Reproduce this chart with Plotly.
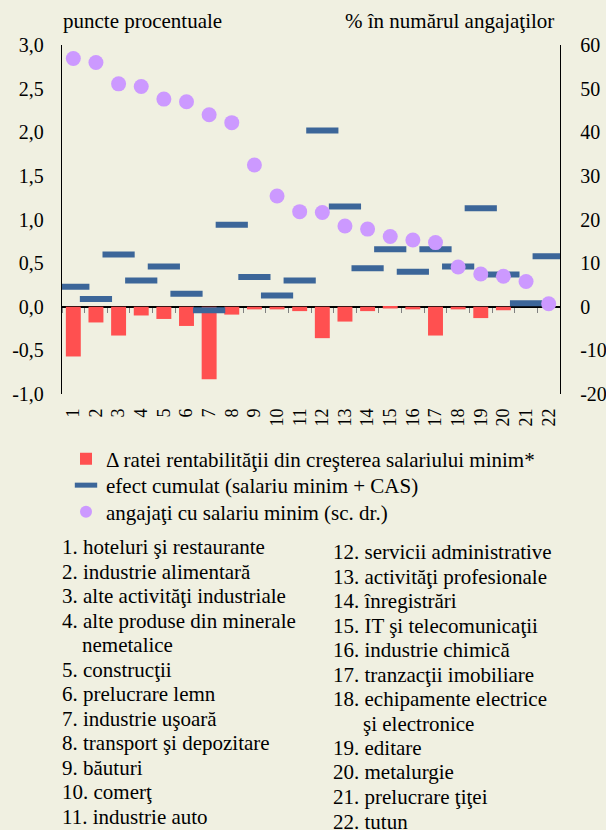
import plotly.graph_objects as go

# ---------------- data ----------------
categories = ["1", "2", "3", "4", "5", "6", "7", "8", "9", "10", "11",
              "12", "13", "14", "15", "16", "17", "18", "19", "20", "21", "22"]
delta_rentabilitate = [-0.57, -0.18, -0.33, -0.10, -0.14, -0.22, -0.83, -0.09, -0.03, -0.03, -0.05,
                       -0.36, -0.17, -0.05, -0.02, -0.03, -0.33, -0.03, -0.13, -0.04, 0.0, 0.0]
efect_cumulat = [0.23, 0.09, 0.60, 0.30, 0.46, 0.15, -0.04, 0.94, 0.34, 0.13, 0.30,
                 2.02, 1.15, 0.44, 0.66, 0.40, 0.66, 0.46, 1.13, 0.37, 0.04, 0.58]
angajati_salariu_minim = [56.9, 56.0, 51.1, 50.5, 47.6, 47.0, 44.0, 42.2, 32.5, 25.4, 21.8,
                          21.6, 18.5, 17.8, 16.1, 15.3, 14.7, 9.1, 7.5, 7.0, 5.8, 0.7]

left_tickvals = [-1.0, -0.5, 0.0, 0.5, 1.0, 1.5, 2.0, 2.5, 3.0]
left_ticktext = ["-1,0", "-0,5", "0,0", "0,5", "1,0", "1,5", "2,0", "2,5", "3,0"]
right_tickvals = [-20, -10, 0, 10, 20, 30, 40, 50, 60]
right_ticktext = ["-20", "-10", "0", "10", "20", "30", "40", "50", "60"]

series_names = ["\u0394 ratei rentabilit\u0103\u0163ii din cre\u015fterea salariului minim*",
                "efect cumulat (salariu minim + CAS)",
                "angaja\u0163i cu salariu minim (sc. dr.)"]

sector_names = ["hoteluri \u015fi restaurante", "industrie alimentar\u0103",
                "alte activit\u0103\u0163i industriale", "alte produse din minerale\nnemetalice",
                "construc\u0163ii", "prelucrare lemn", "industrie u\u015foar\u0103",
                "transport \u015fi depozitare", "b\u0103uturi", "comer\u0163", "industrie auto",
                "servicii administrative", "activit\u0103\u0163i profesionale", "\u00eenregistr\u0103ri",
                "IT \u015fi telecomunica\u0163ii", "industrie chimic\u0103", "tranzac\u0163ii imobiliare",
                "echipamente electrice\n\u015fi electronice", "editare", "metalurgie",
                "prelucrare \u0163i\u0163ei", "tutun"]

left_title = "puncte procentuale"
right_title = "% \u00een num\u0103rul angaja\u0163ilor"

# ---------------- styling / layout ----------------
W, H = 606, 830
ML, MR, MT, MB = 62, 46, 45, 436
PW = W - ML - MR
PH = H - MT - MB
BG = "#F0F0E1"
FONT = "Liberation Serif"


def px2x(px):
    return (px - ML) / PW


def py2y(py):
    return (H - MB - py) / PH


fig = go.Figure()

fig.add_trace(go.Bar(
    x=categories, y=delta_rentabilitate, name=series_names[0],
    marker=dict(color="#FF5050", line=dict(width=0)), width=0.66,
    legend="legend"))

fig.add_trace(go.Scatter(
    x=categories, y=efect_cumulat, name=series_names[1], mode="markers",
    marker=dict(symbol="line-ew", size=23, color="#3C6699",
                line=dict(width=6, color="#3C6699")),
    legend="legend2"))

fig.add_trace(go.Scatter(
    x=categories, y=angajati_salariu_minim, name=series_names[2], mode="markers",
    marker=dict(symbol="circle", size=15, color="#CC99FF", line=dict(width=0)),
    yaxis="y2", legend="legend3"))

# dummy trace to host the label axis
fig.add_trace(go.Scatter(x=[0], y=[None], xaxis="x2", showlegend=False,
                         hoverinfo="skip", mode="markers"))

annotations = [
    dict(text=left_title, x=px2x(61), y=py2y(20.5), xref="paper", yref="paper",
         xanchor="left", yanchor="middle", showarrow=False,
         font=dict(family=FONT, size=21, color="black")),
    dict(text=right_title, x=px2x(556), y=py2y(20.5), xref="paper", yref="paper",
         xanchor="right", yanchor="middle", showarrow=False,
         font=dict(family=FONT, size=21, color="black")),
]

# sector list: two columns
columns = [(0, 11, 60, 547.0), (11, 22, 331, 552.0)]
line_h = 24.5
for start, end, x0, y0 in columns:
    row = 0
    for i in range(start, end):
        parts = sector_names[i].split("\n")
        num = f"{i + 1}. "
        for k, part in enumerate(parts):
            yy = y0 + row * line_h
            if k == 0:
                txt, xx = num + part, x0
            else:
                txt, xx = part, x0 + (20 if i < 9 else 30)
            annotations.append(dict(
                text=txt, x=px2x(xx), y=py2y(yy), xref="paper", yref="paper",
                xanchor="left", yanchor="middle", showarrow=False,
                font=dict(family=FONT, size=21, color="black")))
            row += 1

legend_common = dict(xanchor="left", yanchor="middle", bgcolor="rgba(0,0,0,0)",
                     font=dict(family=FONT, size=21, color="black"), itemwidth=30)

fig.update_layout(
    width=W, height=H,
    margin=dict(l=ML, r=MR, t=MT, b=MB, pad=0, autoexpand=False),
    paper_bgcolor=BG, plot_bgcolor=BG,
    font=dict(family=FONT, size=20, color="black"),
    showlegend=True,
    legend=dict(x=px2x(66), y=py2y(459), itemsizing="constant", **legend_common),
    legend2=dict(x=px2x(66), y=py2y(485.5), itemsizing="trace", **legend_common),
    legend3=dict(x=px2x(66), y=py2y(512), itemsizing="constant", **legend_common),
    xaxis=dict(type="category", range=[-0.5, 21.5], anchor="free", position=0.25,
               showline=True, linecolor="black", linewidth=1.5,
               ticks="outside", tickson="boundaries", ticklen=5, tickcolor="#808080",
               tickwidth=1, showticklabels=False, showgrid=False, zeroline=False,
               layer="below traces", fixedrange=True, automargin=False),
    xaxis2=dict(overlaying="x", anchor="y", side="bottom", range=[-0.5, 21.5],
                tickvals=list(range(len(categories))), ticktext=categories,
                tickangle=-90, tickfont=dict(family=FONT, size=18),
                showline=False, ticks="", showgrid=False, zeroline=False,
                ticklabelstandoff=10, fixedrange=True, automargin=False),
    yaxis=dict(range=[-1, 3], tickvals=left_tickvals, ticktext=left_ticktext,
               showline=True, linecolor="black", linewidth=1.3, ticks="",
               showgrid=False, zeroline=False, ticklabelstandoff=13,
               tickfont=dict(family=FONT, size=20), fixedrange=True, automargin=False),
    yaxis2=dict(range=[-20, 60], tickvals=right_tickvals, ticktext=right_ticktext,
                overlaying="y", side="right", anchor="x",
                showline=True, linecolor="black", linewidth=1.3, ticks="",
                showgrid=False, zeroline=False, ticklabelstandoff=15,
                tickfont=dict(family=FONT, size=20), fixedrange=True, automargin=False),
    annotations=annotations,
)

fig.write_html("out.html", config={"displayModeBar": False},
               post_script="document.body.style.margin='0px';")
